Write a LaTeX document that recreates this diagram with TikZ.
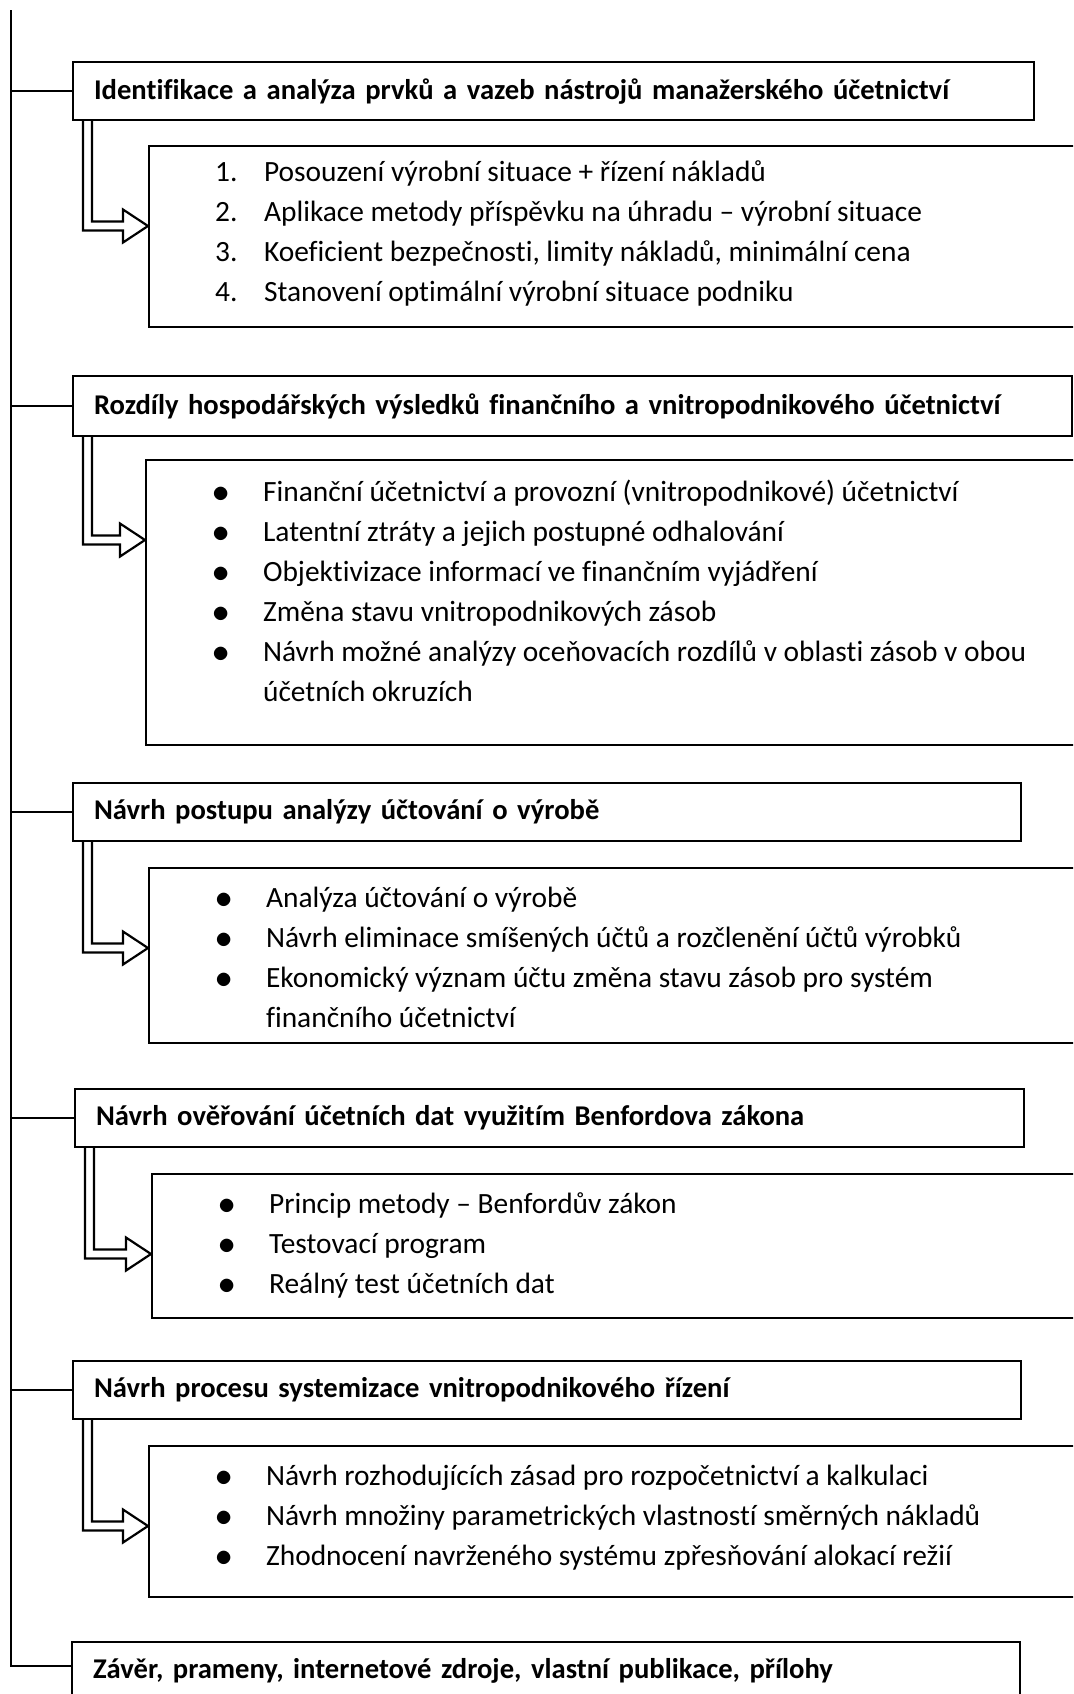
\documentclass[tikz,border=0pt]{standalone}
\usepackage{fontspec}
\setmainfont{Carlito}[Ligatures={TeX,NoCommon}]
\usetikzlibrary{calc}

% list lines inside the boxes
\newcommand{\nitem}[2]{\hspace*{33pt}\makebox[24.5pt][l]{#1.}#2}
\newcommand{\bitem}[1]{\hspace*{33.25pt}\makebox[25.25pt][l]{\raisebox{-0.5pt}{\fontsize{17}{17}\selectfont$\bullet$}}#1}
\newcommand{\cont}[1]{\hspace*{58.5pt}#1}
\newcommand{\itembox}[3][5.5pt]{\parbox[c][#2][t]{480pt}{\vspace*{#1}\strut#3}}
% hollow elbow arrow from a heading down to its box
\newcommand{\fatarrow}[2]{%
  \draw[fat] let \p1=(#1.south west), \p2=([yshift=-40.5pt]#2.north west) in
    (\x1+5.5pt,\y1) -- (\x1+5.5pt,\y2-2.25pt) -- (\x2-12.5pt,\y2-2.25pt)
    -- (\x2-12.5pt,\y2-8.25pt) -- (\x2,\y2) -- (\x2-12.5pt,\y2+8.25pt)
    -- (\x2-12.5pt,\y2+2.25pt) -- (\x1+10pt,\y2+2.25pt) -- (\x1+10pt,\y1);}

\begin{document}
\begin{tikzpicture}[
    x=0.5pt, y=-0.5pt,
    line width=1.1pt,
    head/.style={draw=black, rectangle, anchor=north west, inner xsep=10.5pt, inner ysep=0pt, minimum height=29pt, align=left, font=\bfseries\fontsize{14.3}{16}\selectfont},
    detail/.style={draw=black, rectangle, anchor=north west, inner sep=0pt, font=\fontsize{14.7}{20}\selectfont},
    fat/.style={draw=black, line join=miter},
    link/.style={draw=black}
]
  \useasboundingbox (0,0) rectangle (1073,1694);
  \fill[white] (0,0) rectangle (1073,1694);
  \clip (0,0) rectangle (1073,1694);

  % Headings
  \node[head, text width=459.5pt] (h1) at (72,61) {Identifikace a analýza prvků a vazeb nástrojů manažerského účetnictví};
  \node[head, text width=478.5pt, minimum height=30pt] (h2) at (72,375) {Rozdíly hospodářských výsledků finančního a vnitropodnikového účetnictví};
  \node[head, text width=453pt] (h3) at (72,782) {Návrh postupu analýzy účtování o výrobě};
  \node[head, text width=453.5pt] (h4) at (74,1088) {Návrh ověřování účetních dat využitím Benfordova zákona};
  \node[head, text width=453pt] (h5) at (72,1360) {Návrh procesu systemizace vnitropodnikového řízení};
  \node[head, text width=453pt] (h6) at (71,1641) {Závěr, prameny, internetové zdroje, vlastní publikace, přílohy};

  % Boxes
  \node[detail] (d1) at (148,145) {\itembox[3.5pt]{90.5pt}{%
    \nitem{1}{Posouzení výrobní situace + řízení nákladů}\\
    \nitem{2}{Aplikace metody příspěvku na úhradu – výrobní situace}\\
    \nitem{3}{Koeficient bezpečnosti, limity nákladů, minimální cena}\\
    \nitem{4}{Stanovení optimální výrobní situace podniku}}};
  \node[detail] (d2) at (145,459) {\itembox[6.5pt]{142.5pt}{%
    \bitem{Finanční účetnictví a provozní (vnitropodnikové) účetnictví}\\
    \bitem{Latentní ztráty a jejich postupné odhalování}\\
    \bitem{Objektivizace informací ve finančním vyjádření}\\
    \bitem{Změna stavu vnitropodnikových zásob}\\
    \bitem{Návrh možné analýzy oceňovacích rozdílů v oblasti zásob v obou}\\
    \cont{účetních okruzích}}};
  \node[detail] (d3) at (148,867) {\itembox{87.5pt}{%
    \bitem{Analýza účtování o výrobě}\\
    \bitem{Návrh eliminace smíšených účtů a rozčlenění účtů výrobků}\\
    \bitem{Ekonomický význam účtu změna stavu zásob pro systém}\\
    \cont{finančního účetnictví}}};
  \node[detail] (d4) at (151,1173) {\itembox{72pt}{%
    \bitem{Princip metody – Benfordův zákon}\\
    \bitem{Testovací program}\\
    \bitem{Reálný test účetních dat}}};
  \node[detail] (d5) at (148,1445) {\itembox{75.5pt}{%
    \bitem{Návrh rozhodujících zásad pro rozpočetnictví a kalkulaci}\\
    \bitem{Návrh množiny parametrických vlastností směrných nákladů}\\
    \bitem{Zhodnocení navrženého systému zpřesňování alokací režií}}};

  % Spine and branches
  \coordinate (spine) at (11,10);
  \draw[link] (spine) |- ([yshift=2.5pt]h6.west);
  \foreach \h in {h1,h2,h3,h4,h5}
    \draw[link] (\h.west) -- (\h.west -| spine);

  % Arrows
  \fatarrow{h1}{d1}
  \fatarrow{h2}{d2}
  \fatarrow{h3}{d3}
  \fatarrow{h4}{d4}
  \fatarrow{h5}{d5}
\end{tikzpicture}
\end{document}
